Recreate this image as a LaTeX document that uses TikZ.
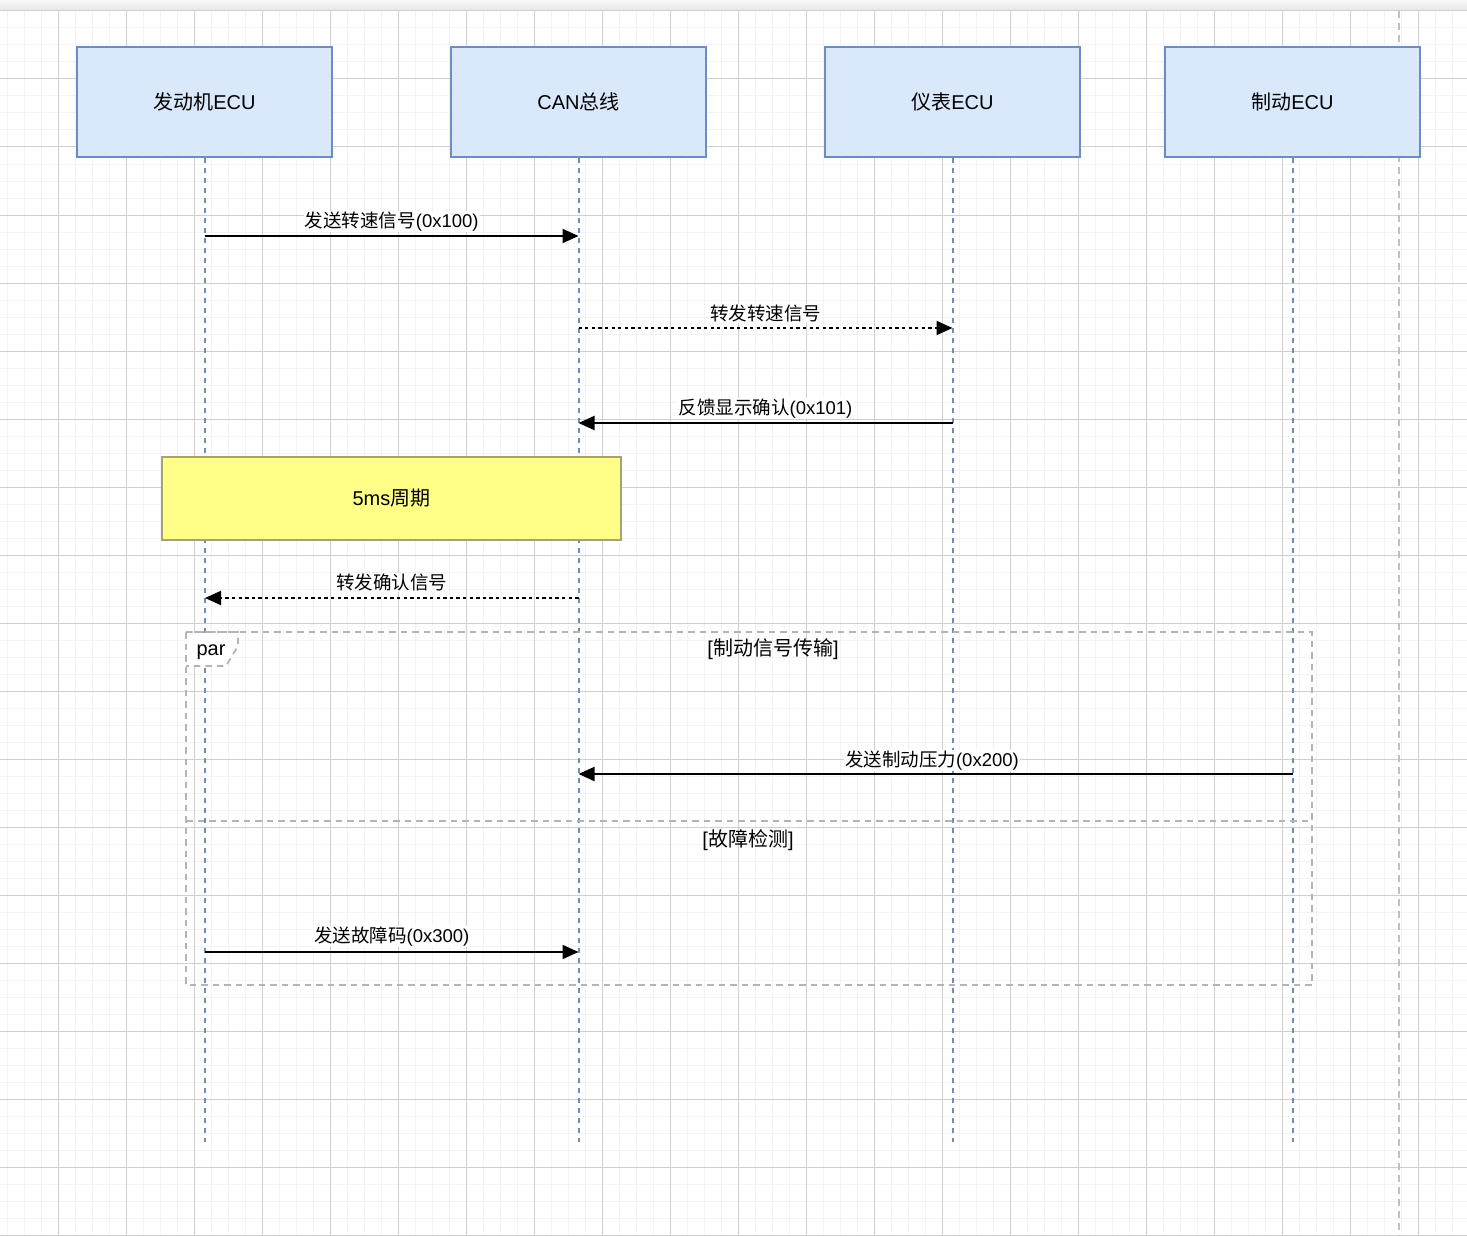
\documentclass[tikz,border=0pt]{standalone}
\usepackage{fontspec}
\setmainfont{Liberation Sans}
\newfontfamily\cjk{Noto Sans CJK SC}
\newcommand\zh[1]{{\cjk #1}}
\usetikzlibrary{arrows.meta}
\definecolor{gridminor}{RGB}{243,243,243}
\definecolor{gridmajor}{RGB}{208,208,208}
\definecolor{bluefill}{HTML}{DAE8FC}
\definecolor{bluestroke}{HTML}{6C8EBF}
\definecolor{notefill}{HTML}{FFFF88}
\definecolor{notestroke}{RGB}{168,160,118}
\definecolor{framegray}{RGB}{180,180,180}
\definecolor{pagegray}{RGB}{192,192,192}
\tikzset{
  participant/.style={draw=bluestroke, fill=bluefill, line width=1.9pt, minimum width=255pt, minimum height=110pt, inner sep=0pt, font=\fontsize{20}{24}\selectfont},
  notebox/.style={draw=notestroke, fill=notefill, line width=1.7pt, minimum width=459pt, minimum height=83pt, inner sep=0pt, font=\fontsize{20}{24}\selectfont},
  lifeline/.style={draw=bluestroke, line width=2pt, dash pattern=on 5pt off 5pt},
  msgsolid/.style={draw=black, line width=2pt, -{Triangle[length=16pt,width=14pt]}},
  msgdotted/.style={draw=black, line width=2pt, dash pattern=on 3.3pt off 3.3pt, -{Triangle[length=16pt,width=14pt]}},
  msglabel/.style={fill=white, inner sep=1pt, font=\fontsize{18.5}{22}\selectfont},
  framestyle/.style={draw=framegray, line width=1.8pt, dash pattern=on 6.5pt off 5pt},
  framelabel/.style={inner sep=1pt, font=\fontsize{20}{24}\selectfont},
}
\begin{document}
\begin{tikzpicture}[x=1pt,y=-1pt]
\useasboundingbox (0,0) rectangle (1467,1236);
\fill[white] (0,0) rectangle (1467,1236);
% top band
\shade[top color=white!97!black, bottom color=white!90!black] (0,0) rectangle (1467,11);
% grid
\foreach \i in {0,...,86} { \draw[gridminor, line width=1pt] ({7+17*\i},11) -- ({7+17*\i},1236); }
\foreach \j in {0,...,72} { \draw[gridminor, line width=1pt] (0,{11+17*\j}) -- (1467,{11+17*\j}); }
\foreach \i in {0,...,20} { \draw[gridmajor, line width=1pt] ({58+68*\i},11) -- ({58+68*\i},1236); }
\foreach \j in {0,...,18} { \draw[gridmajor, line width=1pt] (0,{11+68*\j}) -- (1467,{11+68*\j}); }
% page break
\coordinate (pbtop) at (1399,11);
\coordinate (pbbot) at (1399,1236);
\draw[pagegray, line width=2.2pt, dash pattern=on 7pt off 5pt] (pbtop) -- (pbbot);

% participants
\node[participant] (eng) at (204.5,102) {\zh{发动机}ECU};
\node[participant] (can) at (578.5,102) {CAN\zh{总线}};
\node[participant] (met) at (952.5,102) {\zh{仪表}ECU};
\node[participant] (brk) at (1292.5,102) {\zh{制动}ECU};

% lifeline ends
\coordinate (engend) at (205,1142);
\coordinate (canend) at (578.5,1142);
\coordinate (metend) at (952.5,1142);
\coordinate (brkend) at (1292.5,1142);
\draw[lifeline] (eng.south -| engend) -- (engend);
\draw[lifeline] (can.south) -- (canend);
\draw[lifeline] (met.south) -- (metend);
\draw[lifeline] (brk.south) -- (brkend);

% par frame
\draw[framestyle] (186,632) rectangle (1312,985);
\draw[framestyle] (186,821) -- (1312,821);
\fill[white] (187,633) -- (238,633) -- (238,646) -- (226,665) -- (187,665) -- cycle;
\draw[framestyle] (186,632) -- (238,632) -- (238,646) -- (226,666) -- (186,666);
\node[framelabel] (par) at (211,652) {par};
\node[framelabel] (g1) at (773,649.5) {[\zh{制动信号传输}]};
\node[framelabel] (g2) at (748,840.5) {[\zh{故障检测}]};

% message end points
\coordinate (m1a) at (205,236);   \coordinate (m1b) at (578.5,236);
\coordinate (m2a) at (578.5,328); \coordinate (m2b) at (952.5,328);
\coordinate (m3a) at (952.5,423); \coordinate (m3b) at (578.5,423);
\coordinate (m5a) at (578.5,598); \coordinate (m5b) at (205,598);
\coordinate (m6a) at (1292.5,774);\coordinate (m6b) at (578.5,774);
\coordinate (m7a) at (205,952);   \coordinate (m7b) at (578.5,952);

% note
\node[notebox] (note) at (391.5,498.5) {5ms\zh{周期}};

% messages
\draw[msgsolid] (m1a) -- node[msglabel, midway, yshift=14.5pt] {\zh{发送转速信号}(0x100)} (m1b);
\draw[msgdotted] (m2a) -- node[msglabel, midway, yshift=14.5pt] {\zh{转发转速信号}} (m2b);
\draw[msgsolid] (m3a) -- node[msglabel, midway, yshift=14.5pt] {\zh{反馈显示确认}(0x101)} (m3b);
\draw[msgdotted] (m5a) -- node[msglabel, midway, yshift=15.5pt] {\zh{转发确认信号}} (m5b);
\draw[msgsolid] (m6a) -- node[msglabel, pos=0.505, yshift=13.5pt] {\zh{发送制动压力}(0x200)} (m6b);
\draw[msgsolid] (m7a) -- node[msglabel, midway, yshift=15.5pt] {\zh{发送故障码}(0x300)} (m7b);
\end{tikzpicture}
\end{document}
